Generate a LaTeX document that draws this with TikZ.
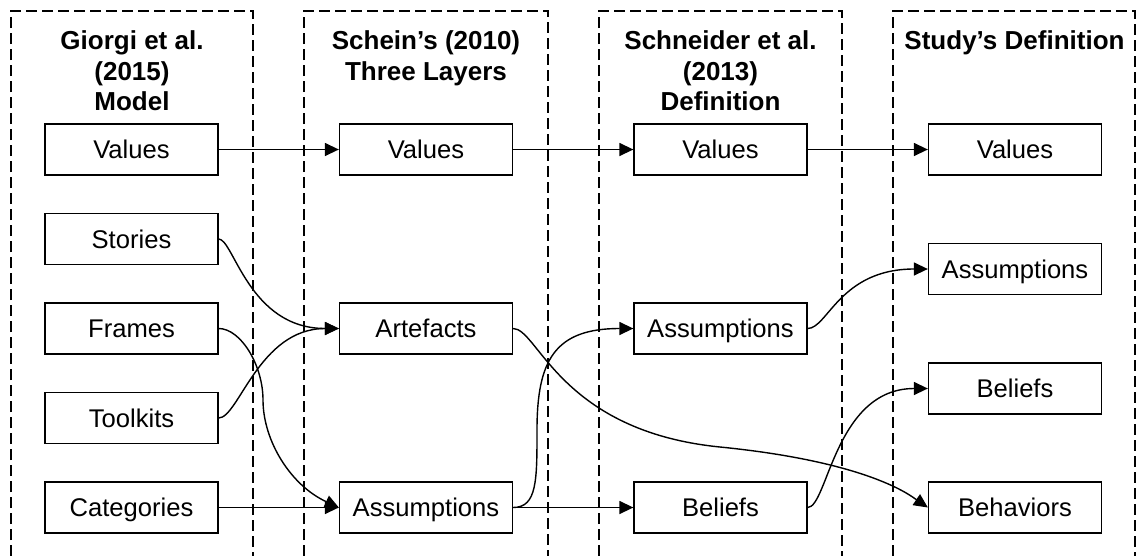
\documentclass[tikz,border=0pt]{standalone}
\usepackage{fontspec}
\setmainfont{Liberation Sans}
\usetikzlibrary{arrows.meta}

\tikzset{
  col/.style={draw=black, line width=1.3pt, dash pattern=on 11pt off 5pt},
  hdr/.style={anchor=north, inner sep=0pt, align=center,
    font=\bfseries\fontsize{26}{30.5}\selectfont},
  item/.style={draw=black, line width=1.3pt, fill=white, inner sep=0pt,
    minimum width=173pt, minimum height=51pt, text height=18.3pt, text depth=0pt,
    font=\fontsize{25.6}{30}\selectfont},
  link/.style={line width=1.4pt, -{Triangle[length=14pt,width=13pt]}},
}

\begin{document}
\begin{tikzpicture}[x=1pt, y=-1pt]
\useasboundingbox (0,0) rectangle (1136,555);

% column frames, open at the bottom
\draw[col] (11,556) -- (11,11) -- (253,11) -- (253,556);
\draw[col] (304,556) -- (304,11) -- (548,11) -- (548,556);
\draw[col] (599,556) -- (599,11) -- (842,11) -- (842,556);
\draw[col] (893,556) -- (893,11) -- (1135,11) -- (1135,556);

% column headings
\node[hdr] (h1) at (132,30.5) {Giorgi et al.\\(2015)\\Model};
\node[hdr] (h2) at (426,30.5) {Schein’s (2010)\\Three Layers};
\node[hdr] (h3) at (720.5,30.5) {Schneider et al.\\(2013)\\Definition};
\node[hdr] (h4) at (1014.5,30.5) {Study’s Definition};

% first column
\node[item] (valA) at (131.5,149.5) {Values};
\node[item] (stoA) at (131.5,239) {Stories};
\node[item] (fraA) at (131.5,328.5) {Frames};
\node[item] (tooA) at (131.5,418) {Toolkits};
\node[item] (catA) at (131.5,507.5) {Categories};

% second column
\node[item] (valB) at (426,149.5) {Values};
\node[item] (artB) at (426,328.5) {Artefacts};
\node[item] (assB) at (426,507.5) {Assumptions};

% third column
\node[item] (valC) at (720.5,149.5) {Values};
\node[item] (assC) at (720.5,328.5) {Assumptions};
\node[item] (belC) at (720.5,507.5) {Beliefs};

% fourth column
\node[item] (valD) at (1015,149.5) {Values};
\node[item] (assD) at (1015,269) {Assumptions};
\node[item] (belD) at (1015,388.5) {Beliefs};
\node[item] (behD) at (1015,507.5) {Behaviors};

% straight links
\draw[link] (valA) -- (valB);
\draw[link] (valB) -- (valC);
\draw[link] (valC) -- (valD);
\draw[link] (catA) -- (assB);
\draw[link] (assB) -- (belC);

% curved links
\draw[link] (stoA.east) .. controls +(15,0) and +(-90,0) .. (artB.west);
\draw[link] (tooA.east) .. controls +(20,0) and +(-80,0) .. (artB.west);
\draw[link] (fraA.east) .. controls +(22,0) and (263,365) .. (263,400)
  .. controls (263,440) and (290,485) .. (assB.west);
\draw[link] (assB.east) .. controls +(24,0) and (537,480) .. (537,430)
  .. controls (537,360) and (555,328.5) .. (assC.west);
\draw[link] (artB.east) .. controls +(25,0) and (560,431) .. (720,447)
  .. controls (870,462) and (911.4,496.3) .. (behD.west);
\draw[link] (assC.east) .. controls +(20,0) and +(-88,0) .. (assD.west);
\draw[link] (belC.east) .. controls +(20,0) and +(-93,0) .. (belD.west);
\end{tikzpicture}
\end{document}
